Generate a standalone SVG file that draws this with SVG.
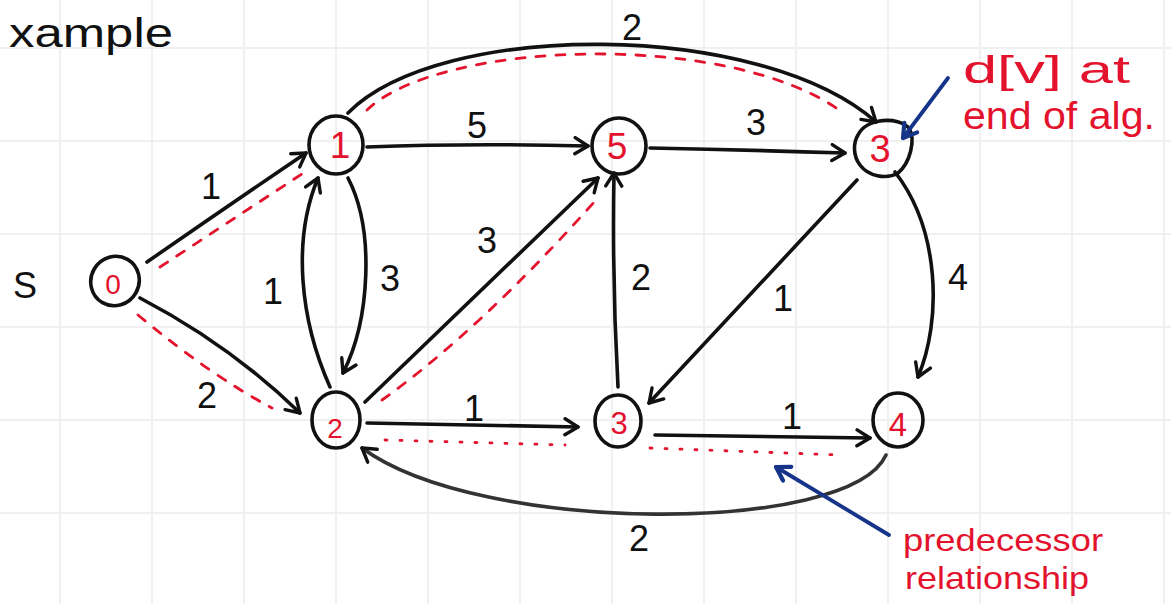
<svg xmlns="http://www.w3.org/2000/svg" width="1171" height="604" viewBox="0 0 1171 604">
<defs>
<style>
.grid{stroke:#f0f0f0;stroke-width:2;fill:none}
.edge{fill:none;stroke:#111;stroke-width:3.6;stroke-linecap:round;stroke-linejoin:round}
.pred{fill:none;stroke:#e3122d;stroke-width:2.8;stroke-linecap:round}
.dash{stroke-dasharray:9,11}
.dot{stroke-dasharray:2,13}
.node{fill:none;stroke:#111;stroke-width:3.6}
.nl{font-family:"Liberation Sans",sans-serif;fill:#e3122d;text-anchor:middle}
.el{font-family:"Liberation Sans",sans-serif;fill:#111;font-size:36px;text-anchor:middle}
.note{font-family:"Liberation Sans",sans-serif;fill:#e3122d}
.blue{fill:none;stroke:#16358a;stroke-width:3.8;stroke-linecap:round}
</style>
<marker id="arr" markerUnits="userSpaceOnUse" markerWidth="24" markerHeight="24" refX="16" refY="10" orient="auto">
<path d="M3,2 L16,10 L3,18" fill="none" stroke="#111" stroke-width="3.4" stroke-linecap="round" stroke-linejoin="round"/>
</marker>
<marker id="barr" markerUnits="userSpaceOnUse" markerWidth="24" markerHeight="24" refX="16" refY="10" orient="auto">
<path d="M3,2 L16,10 L3,18" fill="none" stroke="#16358a" stroke-width="4.2" stroke-linecap="round" stroke-linejoin="round"/>
</marker>
</defs>
<rect width="1171" height="604" fill="#fff"/>
<g id="grid" class="grid">
<path d="M60,0V604M152,0V604M244,0V604M336,0V604M428,0V604M520,0V604M612,0V604M704,0V604M796,0V604M888,0V604M980,0V604M1072,0V604M1164,0V604"/>
<path d="M0,48H1171M0,141H1171M0,234H1171M0,327H1171M0,420H1171M0,513H1171"/>
</g>
<g id="title">
<text x="9" y="47" font-family="Liberation Sans, sans-serif" font-size="40" textLength="164" lengthAdjust="spacingAndGlyphs" fill="#111">xample</text>
<text x="25" y="298" font-family="Liberation Sans, sans-serif" font-size="36" text-anchor="middle" fill="#111">S</text>
</g>
<g id="connectors">
<path class="edge" d="M147,262 Q225,208 306,153" marker-end="url(#arr)"/>
<path class="pred dash" d="M160,267 L308,170"/>
<path class="edge" d="M140,298 Q230,345 300,413" marker-end="url(#arr)"/>
<path class="pred dash" d="M138,315 Q210,375 272,408"/>
<path class="edge" d="M330,387 C300,320 292,240 318,178" marker-end="url(#arr)"/>
<path class="edge" d="M348,178 C375,230 370,320 343,373" marker-end="url(#arr)"/>
<path class="edge" d="M367,147 Q470,143 588,146" marker-end="url(#arr)"/>
<path class="edge" d="M650,148 Q750,150 845,153" marker-end="url(#arr)"/>
<path class="edge" d="M348,113 C440,20 760,20 876,122" marker-end="url(#arr)"/>
<path class="pred dash" d="M367,110 C440,40 730,30 842,112"/>
<path class="edge" d="M365,402 L598,178" marker-end="url(#arr)"/>
<path class="pred dash" d="M382,400 Q480,330 596,200"/>
<path class="edge" d="M618,387 Q612,280 614,173" marker-end="url(#arr)"/>
<path class="edge" d="M857,180 L649,403" marker-end="url(#arr)"/>
<path class="edge" d="M895,172 C940,230 942,320 918,377" marker-end="url(#arr)"/>
<path class="edge" d="M367,423 L578,427" marker-end="url(#arr)"/>
<path class="pred dot" d="M385,440 L565,445"/>
<path class="edge" d="M655,435 L870,438" marker-end="url(#arr)"/>
<path class="pred dot" d="M650,448 L840,455"/>
<path class="edge" d="M886,455 C850,535 480,535 362,448" marker-end="url(#arr)" style="stroke:#333"/>
<g id="edge-labels">
<text class="el" x="211" y="199">1</text>
<text class="el" x="207" y="408">2</text>
<text class="el" x="273" y="304">1</text>
<text class="el" x="390" y="291">3</text>
<text class="el" x="477" y="138">5</text>
<text class="el" x="756" y="135">3</text>
<text class="el" x="632" y="40">2</text>
<text class="el" x="487" y="253">3</text>
<text class="el" x="641" y="290">2</text>
<text class="el" x="783" y="311">1</text>
<text class="el" x="958" y="290">4</text>
<text class="el" x="474" y="421">1</text>
<text class="el" x="792" y="429">1</text>
<text class="el" x="639" y="551">2</text>
</g>
</g>
<g id="node-s">
<ellipse class="node" cx="115" cy="281" rx="24" ry="25" transform="rotate(30 115 281)"/>
<text class="nl" x="113" y="294" font-size="28">0</text>
</g>
<g id="node-1">
<ellipse class="node" cx="336" cy="145" rx="27" ry="29"/>
<text class="nl" x="340" y="158" font-size="37">1</text>
</g>
<g id="node-5">
<ellipse class="node" cx="619" cy="146" rx="27" ry="28"/>
<text class="nl" x="617" y="159" font-size="37">5</text>
</g>
<g id="node-3top">
<path class="node" d="M858,135 C866,118 898,116 909,128 C916,140 910,163 898,173 C886,180 868,176 860,165 C853,156 853,143 858,135 Z"/>
<text class="nl" x="880" y="162" font-size="38">3</text>
</g>
<g id="node-2">
<ellipse class="node" cx="336" cy="420" rx="24" ry="28"/>
<text class="nl" x="335" y="438" font-size="28">2</text>
</g>
<g id="node-3bottom">
<ellipse class="node" cx="618" cy="421" rx="23" ry="26"/>
<text class="nl" x="619" y="434" font-size="31">3</text>
</g>
<g id="node-4">
<ellipse class="node" cx="898" cy="420" rx="25" ry="27"/>
<text class="nl" x="898" y="436" font-size="33">4</text>
</g>
<g id="annotations">
<path class="blue" d="M948,78 L903,138" marker-end="url(#barr)"/>
<text class="note" x="963" y="83" font-size="38" textLength="167" lengthAdjust="spacingAndGlyphs">d[v] at</text>
<text class="note" x="963" y="129" font-size="38" textLength="192" lengthAdjust="spacingAndGlyphs">end of alg.</text>
<path class="blue" d="M889,535 L776,467" marker-end="url(#barr)"/>
<text class="note" x="903" y="551" font-size="32" textLength="200" lengthAdjust="spacingAndGlyphs">predecessor</text>
<text class="note" x="905" y="589" font-size="32" textLength="184" lengthAdjust="spacingAndGlyphs">relationship</text>
</g>
</svg>
